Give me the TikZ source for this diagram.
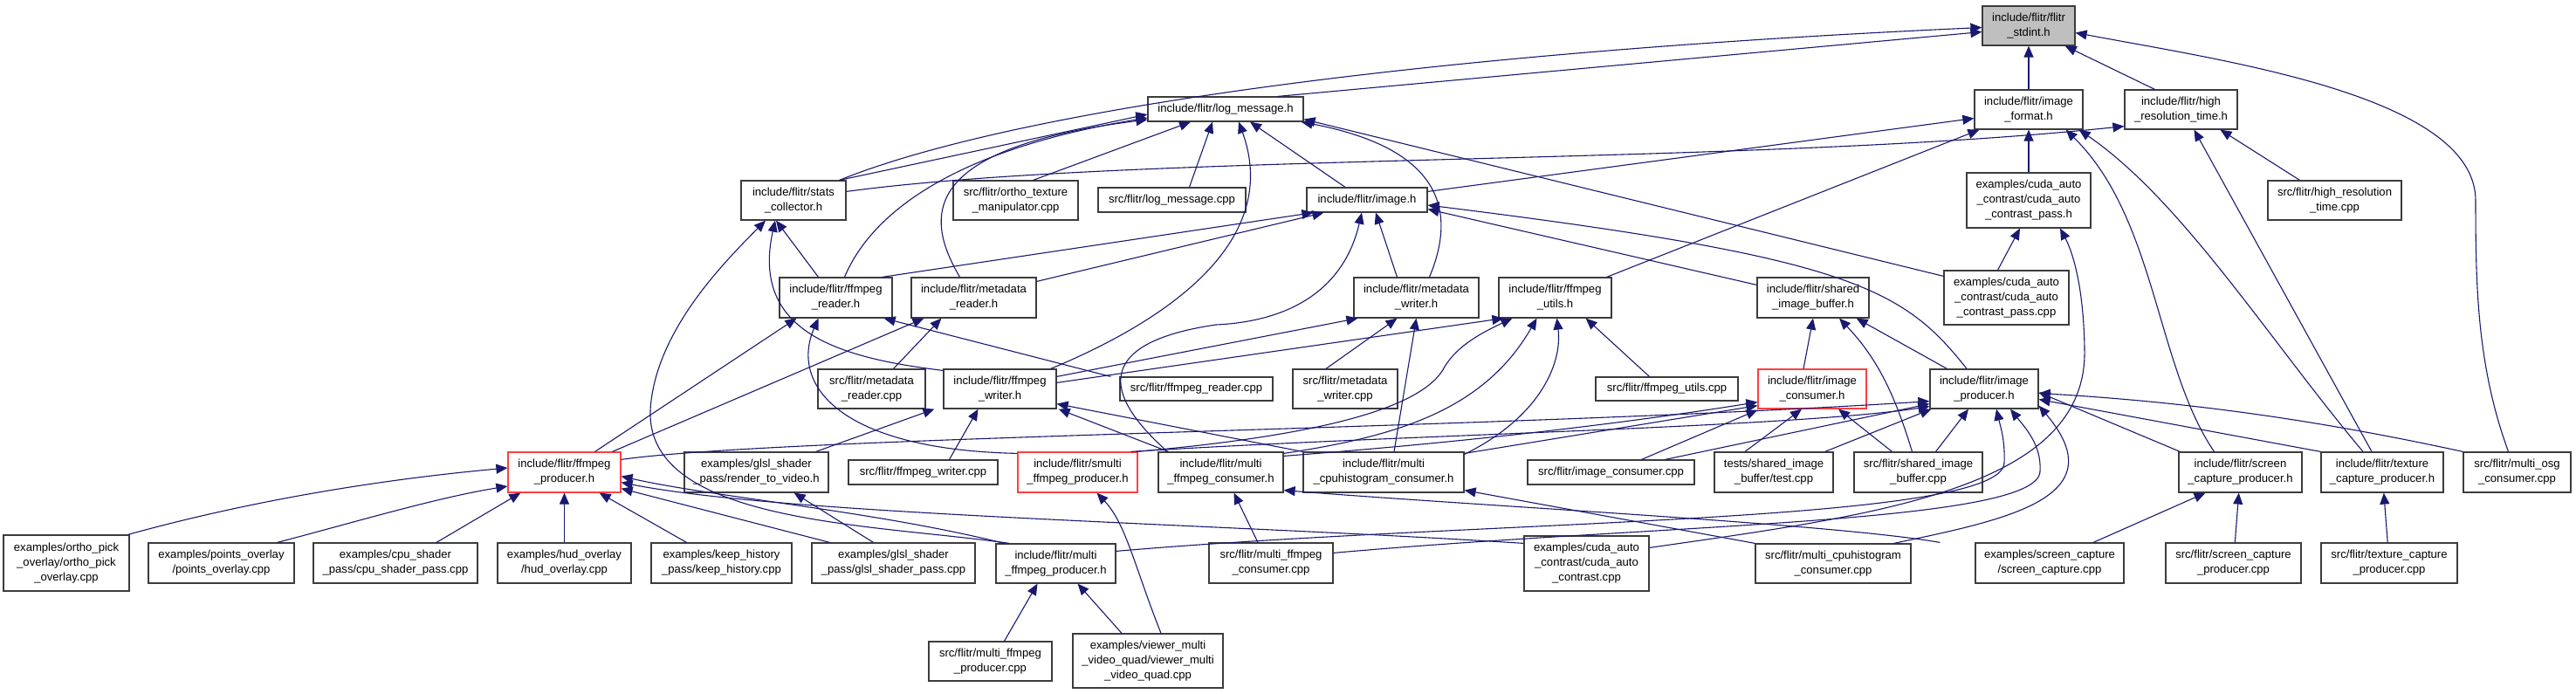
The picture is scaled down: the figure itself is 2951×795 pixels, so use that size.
\documentclass[tikz,border=0pt]{standalone}
\usepackage{fontspec}
\setmainfont{Liberation Sans}
\usetikzlibrary{arrows.meta}
\definecolor{edgec}{RGB}{25,25,112}
\definecolor{boxc}{RGB}{60,60,60}
\definecolor{redc}{RGB}{255,64,64}
\definecolor{rootc}{RGB}{191,191,191}
\tikzset{
  box/.style={draw=boxc, line width=1.2pt, fill=white, inner sep=0pt, align=center,
    font=\fontsize{13.1pt}{17pt}\selectfont},
  redbox/.style={box, draw=redc},
  rootbox/.style={box, fill=rootc},
  e/.style={draw=edgec, line width=1.1pt, -{Triangle[length=13pt,width=11pt]}}
}
\begin{document}
\begin{tikzpicture}[x=1pt,y=-1pt]
\fill[white] (0,0) rectangle (2951,795);
\useasboundingbox (0,0) rectangle (2951,795);
% ---------- nodes ----------
\node[rootbox, minimum width=106pt, minimum height=45pt] (stdint) at (2324,29.5) {include/flitr/flitr\\\_stdint.h};
\node[box, minimum width=124pt, minimum height=45pt] (imgfmt) at (2324,125.5) {include/flitr/image\\\_format.h};
\node[box, minimum width=129pt, minimum height=45pt] (hrt) at (2498.5,125.5) {include/flitr/high\\\_resolution\_time.h};
\node[box, minimum width=142pt, minimum height=63pt] (cpassh) at (2324,229.5) {examples/cuda\_auto\\\_contrast/cuda\_auto\\\_contrast\_pass.h};
\node[box, minimum width=143pt, minimum height=62pt] (cpasscpp) at (2298.5,341) {examples/cuda\_auto\\\_contrast/cuda\_auto\\\_contrast\_pass.cpp};
\node[box, minimum width=128pt, minimum height=46pt] (simgbuf) at (2077,341) {include/flitr/shared\\\_image\_buffer.h};
\node[box, minimum width=153pt, minimum height=45pt] (hrtcpp) at (2674.5,229.5) {src/flitr/high\_resolution\\\_time.cpp};
\node[box, minimum width=178pt, minimum height=28pt] (log) at (1404,125) {include/flitr/log\_message.h};
\node[box, minimum width=120pt, minimum height=45pt] (stats) at (909,229.5) {include/flitr/stats\\\_collector.h};
\node[box, minimum width=143pt, minimum height=45pt] (ortho) at (1163.5,229.5) {src/flitr/ortho\_texture\\\_manipulator.cpp};
\node[box, minimum width=169pt, minimum height=28pt] (logcpp) at (1342.5,229) {src/flitr/log\_message.cpp};
\node[box, minimum width=138pt, minimum height=28pt] (image) at (1566,229) {include/flitr/image.h};
\node[box, minimum width=129pt, minimum height=46pt] (freader) at (957.5,341) {include/flitr/ffmpeg\\\_reader.h};
\node[box, minimum width=143pt, minimum height=46pt] (mreader) at (1115.5,341) {include/flitr/metadata\\\_reader.h};
\node[box, minimum width=143pt, minimum height=46pt] (mwriter) at (1622.5,341) {include/flitr/metadata\\\_writer.h};
\node[box, minimum width=129pt, minimum height=46pt] (futils) at (1781.5,341) {include/flitr/ffmpeg\\\_utils.h};
\node[box, minimum width=123pt, minimum height=45pt] (mreadercpp) at (998.5,445.5) {src/flitr/metadata\\\_reader.cpp};
\node[box, minimum width=129pt, minimum height=45pt] (fwriter) at (1145.5,445.5) {include/flitr/ffmpeg\\\_writer.h};
\node[box, minimum width=120pt, minimum height=45pt] (mwritercpp) at (1541,445.5) {src/flitr/metadata\\\_writer.cpp};
\node[box, minimum width=175pt, minimum height=27pt] (freadercpp) at (1370.5,445.5) {src/flitr/ffmpeg\_reader.cpp};
\node[box, minimum width=163pt, minimum height=27pt] (futilscpp) at (1909.5,445.5) {src/flitr/ffmpeg\_utils.cpp};
\node[redbox, minimum width=124pt, minimum height=45pt] (icons) at (2076,445.5) {include/flitr/image\\\_consumer.h};
\node[box, minimum width=124pt, minimum height=45pt] (iprod) at (2273,445.5) {include/flitr/image\\\_producer.h};
\node[redbox, minimum width=129pt, minimum height=46pt] (fprod) at (646.5,541) {include/flitr/ffmpeg\\\_producer.h};
\node[box, minimum width=165pt, minimum height=46pt] (rtv) at (866.5,541) {examples/glsl\_shader\\\_pass/render\_to\_video.h};
\node[box, minimum width=171pt, minimum height=28pt] (fwritercpp) at (1057.5,541) {src/flitr/ffmpeg\_writer.cpp};
\node[redbox, minimum width=137pt, minimum height=46pt] (smulti) at (1234.5,541) {include/flitr/smulti\\\_ffmpeg\_producer.h};
\node[box, minimum width=143pt, minimum height=46pt] (mfcons) at (1398.5,541) {include/flitr/multi\\\_ffmpeg\_consumer.h};
\node[box, minimum width=184pt, minimum height=46pt] (mcpuh) at (1585,541) {include/flitr/multi\\\_cpuhistogram\_consumer.h};
\node[box, minimum width=191pt, minimum height=28pt] (icpp) at (1845.5,541) {src/flitr/image\_consumer.cpp};
\node[box, minimum width=136pt, minimum height=46pt] (testcpp) at (2032,541) {tests/shared\_image\\\_buffer/test.cpp};
\node[box, minimum width=147pt, minimum height=46pt] (sibcpp) at (2197.5,541) {src/flitr/shared\_image\\\_buffer.cpp};
\node[box, minimum width=141pt, minimum height=46pt] (scaph) at (2566.5,541) {include/flitr/screen\\\_capture\_producer.h};
\node[box, minimum width=140pt, minimum height=46pt] (tcaph) at (2729,541) {include/flitr/texture\\\_capture\_producer.h};
\node[box, minimum width=123pt, minimum height=46pt] (osg) at (2883.5,541) {src/flitr/multi\_osg\\\_consumer.cpp};
\node[box, minimum width=144pt, minimum height=64pt] (opick) at (76,645) {examples/ortho\_pick\\\_overlay/ortho\_pick\\\_overlay.cpp};
\node[box, minimum width=167pt, minimum height=46pt] (points) at (253.5,645) {examples/points\_overlay\\/points\_overlay.cpp};
\node[box, minimum width=188pt, minimum height=46pt] (cpush) at (453,645) {examples/cpu\_shader\\\_pass/cpu\_shader\_pass.cpp};
\node[box, minimum width=153pt, minimum height=46pt] (hud) at (646.5,645) {examples/hud\_overlay\\/hud\_overlay.cpp};
\node[box, minimum width=161pt, minimum height=46pt] (keep) at (826.5,645) {examples/keep\_history\\\_pass/keep\_history.cpp};
\node[box, minimum width=187pt, minimum height=46pt] (glslpass) at (1023.5,645) {examples/glsl\_shader\\\_pass/glsl\_shader\_pass.cpp};
\node[box, minimum width=137pt, minimum height=45pt] (mfprod) at (1209.5,645.5) {include/flitr/multi\\\_ffmpeg\_producer.h};
\node[box, minimum width=142pt, minimum height=46pt] (mfconscpp) at (1456,645) {src/flitr/multi\_ffmpeg\\\_consumer.cpp};
\node[box, minimum width=143pt, minimum height=63pt] (cudacpp) at (1817.5,645.5) {examples/cuda\_auto\\\_contrast/cuda\_auto\\\_contrast.cpp};
\node[box, minimum width=178pt, minimum height=45pt] (mcpuhcpp) at (2100,645.5) {src/flitr/multi\_cpuhistogram\\\_consumer.cpp};
\node[box, minimum width=170pt, minimum height=46pt] (screencpp) at (2348,645) {examples/screen\_capture\\/screen\_capture.cpp};
\node[box, minimum width=155pt, minimum height=46pt] (scapcpp) at (2558.5,645) {src/flitr/screen\_capture\\\_producer.cpp};
\node[box, minimum width=156pt, minimum height=46pt] (tcapcpp) at (2737,645) {src/flitr/texture\_capture\\\_producer.cpp};
\node[box, minimum width=141pt, minimum height=45pt] (mfprodcpp) at (1134.5,757.5) {src/flitr/multi\_ffmpeg\\\_producer.cpp};
\node[box, minimum width=172pt, minimum height=62pt] (viewer) at (1315,757) {examples/viewer\_multi\\\_video\_quad/viewer\_multi\\\_video\_quad.cpp};
% ---------- edges (child -> included file) ----------
\draw[e] ([xshift=60pt]log.north) -- ([yshift=-7pt]stdint.west);
\draw[e] ([xshift=-8pt]stats.north east) .. controls (1150,130) and (1600,62) .. ([yshift=-2pt]stdint.west);
\draw[e] (imgfmt) -- (stdint);
\draw[e] ([xshift=-30pt]hrt.north) -- ([xshift=-12pt]stdint.south east);
\draw[e] ([xshift=-10pt]osg.north) .. controls (2838,420) and (2836,330) .. (2836,230) .. controls (2836,110) and (2550,70) .. ([yshift=-8pt]stdint.east);
\draw[e] ([yshift=-5pt]image.north east) -- ([yshift=-10pt]imgfmt.west);
\draw[e] ([xshift=-6pt]futils.north east) -- ([xshift=6pt]imgfmt.south west);
\draw[e] (cpassh) -- (imgfmt);
\draw[e] ([xshift=-30pt]scaph.north) .. controls (2470,420) and (2470,250) .. ([xshift=-20pt]imgfmt.south east);
\draw[e] ([xshift=-22pt]tcaph.north) .. controls (2600,390) and (2500,230) .. ([xshift=-5pt]imgfmt.south east);
\draw[e] ([yshift=-13pt]stats.north east) .. controls (1300,175) and (2000,190) .. ([yshift=4pt]hrt.south west);
\draw[e] ([xshift=-12pt]tcaph.north) -- ([xshift=15pt]hrt.south);
\draw[e] ([xshift=-40pt]hrtcpp.north) -- ([xshift=45pt]hrt.south);
\draw[e] ([xshift=-10pt]cpasscpp.north) -- ([xshift=-10pt]cpassh.south);
\draw[e] ([yshift=-14pt]cudacpp.north east) .. controls (2150,590) and (2392,560) .. (2388,400) .. controls (2387,330) and (2375,290) .. ([xshift=36pt]cpassh.south);
\draw[e] ([xshift=-8pt]stats.north east) -- ([yshift=-6pt]log.west);
\draw[e] ([xshift=10pt]freader.north) .. controls (1000,240) and (1100,170) .. ([yshift=-10pt]log.west);
\draw[e] ([xshift=-16pt]mreader.north) .. controls (1060,250) and (1050,170) .. ([yshift=-12pt]log.west);
\draw[e] ([xshift=20pt]ortho.north) -- ([xshift=-40pt]log.south);
\draw[e] ([xshift=20pt]logcpp.north) -- ([xshift=-15pt]log.south);
\draw[e] ([xshift=-25pt]image.north) -- ([xshift=28pt]log.south);
\draw[e] ([xshift=-7pt]fwriter.north east) .. controls (1330,370) and (1470,280) .. ([xshift=15pt]log.south);
\draw[e] ([xshift=15pt]mwriter.north) .. controls (1670,240) and (1650,170) .. ([xshift=-3pt]log.south east);
\draw[e] ([yshift=-7pt]cpasscpp.north west) -- ([yshift=3pt]log.south east);
\draw[e] ([xshift=-20pt]freader.north) -- ([xshift=-20pt]stats.south);
\draw[e] ([yshift=-2pt]fwriter.north west) .. controls (960,410) and (860,380) .. ([xshift=-21pt]stats.south);
\draw[e] ([xshift=16pt]mfprod.north west) .. controls (1000,600) and (740,600) .. (745,470) .. controls (750,380) and (830,300) .. ([xshift=-32pt]stats.south);
\draw[e] ([xshift=35pt]fprod.north) -- ([xshift=-45pt]freader.south);
\draw[e] ([yshift=-2pt]smulti.north west) .. controls (960,515) and (905,440) .. ([xshift=-20pt]freader.south);
\draw[e] ([xshift=-10pt]freadercpp.north west) -- ([xshift=-10pt]freader.south east);
\draw[e] ([xshift=-12pt]freader.north east) -- ([xshift=8pt]image.south west);
\draw[e] ([yshift=-5pt]mreader.north east) -- ([xshift=20pt]image.south west);
\draw[e] ([xshift=-22pt]mwriter.north) -- ([xshift=10pt]image.south);
\draw[e] ([xshift=-61pt]mfcons.north) .. controls (1250,440) and (1270,390) .. (1393,372) .. controls (1480,368) and (1540,330) .. ([xshift=-6pt]image.south);
\draw[e] ([yshift=-9pt]simgbuf.north west) -- ([yshift=4pt]image.south east);
\draw[e] ([xshift=-20pt]iprod.north) .. controls (2180,330) and (2120,295) .. ([yshift=-6pt]image.east);
\draw[e] ([xshift=55pt]fprod.north) -- ([xshift=15pt]mreader.south west);
\draw[e] ([xshift=25pt]mreadercpp.north) -- ([xshift=35pt]mreader.south west);
\draw[e] ([yshift=-9pt]fwriter.north east) -- ([xshift=5pt]mwriter.south west);
\draw[e] ([xshift=-22pt]mwritercpp.north) -- ([xshift=-22pt]mwriter.south);
\draw[e] ([xshift=12pt]mcpuh.north) -- ([xshift=0pt]mwriter.south);
\draw[e] ([yshift=-16pt]fwriter.north east) -- ([xshift=6pt]futils.south west);
\draw[e] ([xshift=-2pt]smulti.north east) .. controls (1500,500) and (1630,470) .. (1655,420) .. controls (1670,395) and (1700,380) .. ([xshift=16pt]futils.south west);
\draw[e] ([yshift=-2pt]mfcons.north east) .. controls (1600,500) and (1700,470) .. ([xshift=-21pt]futils.south);
\draw[e] ([yshift=-3pt]mcpuh.north east) .. controls (1760,480) and (1790,420) .. ([xshift=2pt]futils.south);
\draw[e] ([xshift=-20pt]futilscpp.north) -- ([xshift=-30pt]futils.south east);
\draw[e] ([xshift=30pt]fwritercpp.north) -- ([xshift=-25pt]fwriter.south);
\draw[e] ([xshift=-15pt]rtv.north east) -- ([xshift=-10pt]fwriter.south west);
\draw[e] ([xshift=-60pt]mfcons.north) -- ([xshift=2pt]fwriter.south east);
\draw[e] (mcpuh.north west) -- ([yshift=6pt]fwriter.south east);
\draw[e] ([xshift=-10pt]icons.north) -- ([xshift=0pt]simgbuf.south);
\draw[e] ([xshift=-7pt]sibcpp.north) .. controls (2170,450) and (2150,410) .. ([xshift=30pt]simgbuf.south);
\draw[e] ([xshift=20pt]iprod.north west) -- ([xshift=-15pt]simgbuf.south east);
\draw[e] ([xshift=20pt]sibcpp.north) -- ([xshift=-18pt]iprod.south);
\draw[e] ([xshift=-10pt]testcpp.north east) -- ([xshift=2pt]iprod.south west);
\draw[e] ([xshift=-33pt]testcpp.north) -- ([xshift=-12pt]icons.south);
\draw[e] ([xshift=-30pt]sibcpp.north) -- ([xshift=30pt]icons.south);
\draw[e] ([xshift=35pt]icpp.north) -- ([yshift=-1pt]icons.south west);
\draw[e] ([xshift=62pt]icpp.north) -- ([yshift=6pt]iprod.south west);
\draw[e] ([yshift=-2pt]mcpuh.north east) -- ([yshift=4pt]icons.south west);
\draw[e] ([yshift=-5pt]mfcons.north east) .. controls (1700,505) and (1880,482) .. ([yshift=8pt]icons.south west);
\draw[e] ([yshift=-9pt]fprod.north east) .. controls (900,500) and (1700,492) .. ([yshift=9pt]iprod.south west);
\draw[e] ([xshift=-8pt]smulti.north east) .. controls (1600,498) and (2050,490) .. ([yshift=3pt]iprod.south west);
\draw[e] ([yshift=-9pt]mfprod.north east) .. controls (1700,595) and (2295,600) .. (2296,530) .. controls (2297,505) and (2292,490) .. ([xshift=14pt]iprod.south);
\draw[e] ([yshift=-12pt]mfconscpp.north east) .. controls (1900,600) and (2335,600) .. (2337,540) .. controls (2339,510) and (2320,490) .. ([xshift=30pt]iprod.south);
\draw[e] ([xshift=-20pt]mcpuhcpp.north east) .. controls (2300,595) and (2425,570) .. ([yshift=4pt]iprod.south east);
\draw[e] ([xshift=2pt]scaph.north west) -- ([yshift=-4pt]iprod.east);
\draw[e] (tcaph.north west) -- ([yshift=-12pt]iprod.east);
\draw[e] (osg.north west) .. controls (2650,480) and (2500,460) .. ([yshift=-5pt]iprod.east);
\draw[e] ([xshift=-2pt]opick.north east) .. controls (300,570) and (450,548) .. ([yshift=5pt]fprod.west);
\draw[e] ([xshift=-20pt]points.north east) .. controls (400,600) and (500,570) .. ([yshift=-16pt]fprod.west);
\draw[e] ([xshift=47pt]cpush.north) -- ([xshift=15pt]fprod.south west);
\draw[e] (hud) -- (fprod);
\draw[e] ([xshift=-40pt]keep.north) -- ([xshift=-25pt]fprod.south east);
\draw[e] ([xshift=-73pt]glslpass.north) -- ([yshift=5pt]fprod.south east);
\draw[e] ([xshift=-23pt]glslpass.north) -- ([xshift=-40pt]rtv.south east);
\draw[e] ([yshift=-9pt]cudacpp.north west) .. controls (1400,600) and (900,590) .. ([yshift=12pt]fprod.south east);
\draw[e] ([xshift=10pt]mfprod.north west) .. controls (1000,585) and (820,570) .. ([yshift=19pt]fprod.south east);
\draw[e] ([xshift=-40pt]screencpp.north west) .. controls (2100,600) and (1700,580) .. ([yshift=3pt]mfcons.south east);
\draw[e] ([xshift=-15pt]mfconscpp.north) -- ([xshift=15pt]mfcons.south);
\draw[e] (mcpuhcpp.north west) -- ([yshift=3pt]mcpuh.south east);
\draw[e] ([xshift=15pt]viewer.north) .. controls (1300,650) and (1290,600) .. ([xshift=22pt]smulti.south);
\draw[e] ([xshift=-30pt]viewer.north) -- ([xshift=25pt]mfprod.south);
\draw[e] ([xshift=16pt]mfprodcpp.north) -- ([xshift=-21pt]mfprod.south);
\draw[e] ([xshift=50pt]screencpp.north) -- ([xshift=-40pt]scaph.south);
\draw[e] (scapcpp) -- (scaph);
\draw[e] (tcapcpp) -- (tcaph);
\end{tikzpicture}
\end{document}
